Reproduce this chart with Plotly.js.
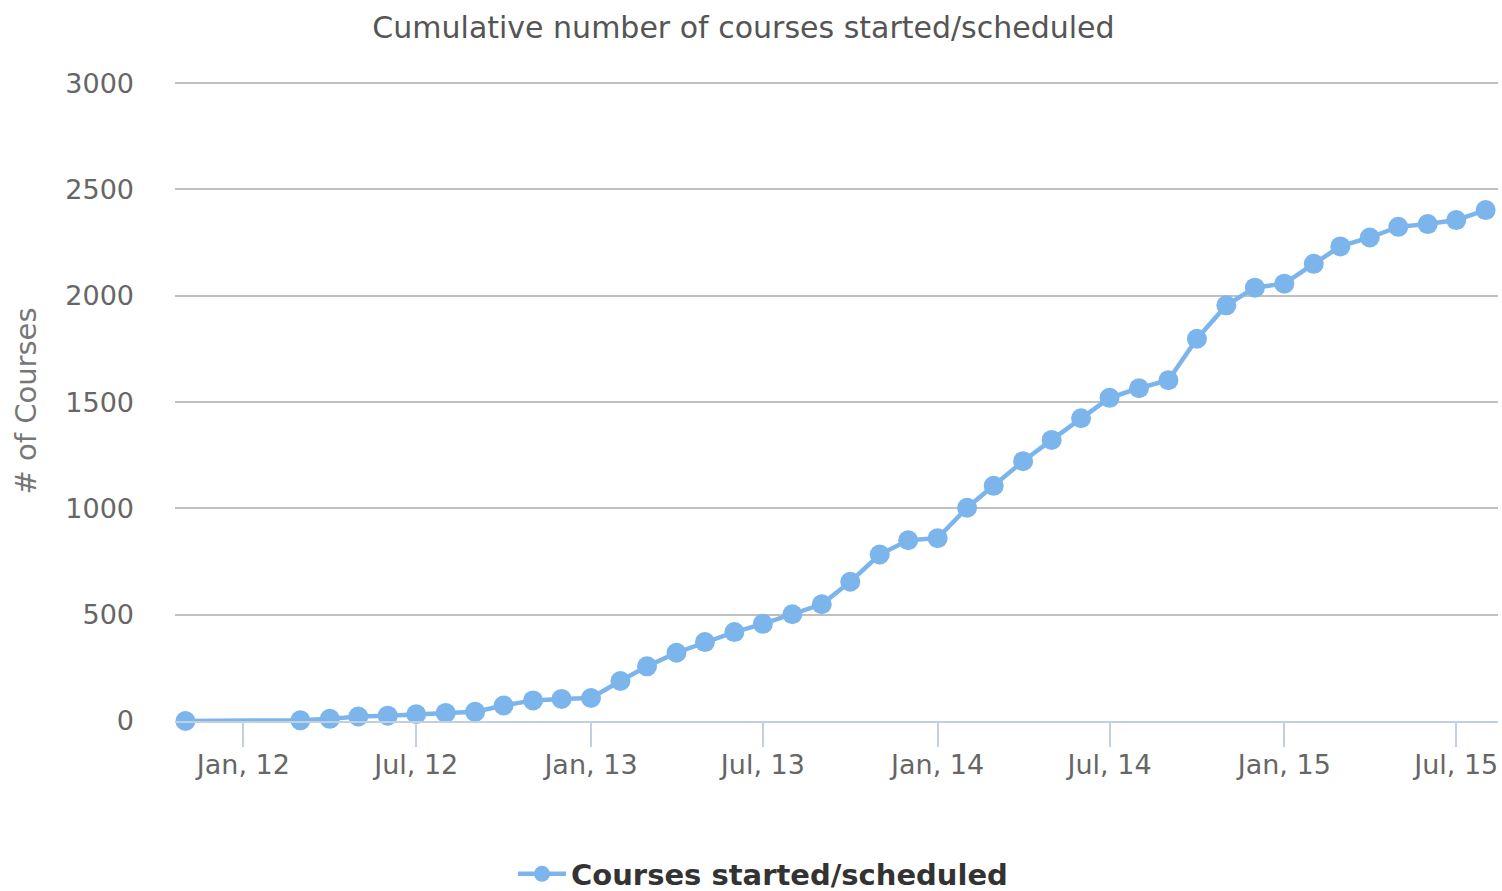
<!DOCTYPE html>
<html>
<head>
<meta charset="utf-8">
<script src="https://cdn.plot.ly/plotly-3.0.1.min.js"></script>
<style>
  html, body { margin: 0; padding: 0; background: #ffffff; }
  #chart { width: 1502px; height: 891px; }
</style>
</head>
<body>
<div id="chart"></div>
<script>
// Month start dates of each point
const months = [
  '2011-11-01',
  '2012-03-01', '2012-04-01', '2012-05-01', '2012-06-01', '2012-07-01',
  '2012-08-01', '2012-09-01', '2012-10-01', '2012-11-01', '2012-12-01',
  '2013-01-01', '2013-02-01', '2013-03-01', '2013-04-01', '2013-05-01', '2013-06-01',
  '2013-07-01', '2013-08-01', '2013-09-01', '2013-10-01', '2013-11-01', '2013-12-01',
  '2014-01-01', '2014-02-01', '2014-03-01', '2014-04-01', '2014-05-01', '2014-06-01',
  '2014-07-01', '2014-08-01', '2014-09-01', '2014-10-01', '2014-11-01', '2014-12-01',
  '2015-01-01', '2015-02-01', '2015-03-01', '2015-04-01', '2015-05-01', '2015-06-01',
  '2015-07-01', '2015-08-01'
];

// Cumulative number of courses started/scheduled
const coursesCumulative = [
  0,
  3, 10, 21, 25, 32,
  38, 43, 73, 97, 104,
  108, 188, 257, 321, 371, 418,
  457, 502, 549, 655, 783, 850,
  860, 1003, 1106, 1222, 1322, 1424,
  1520, 1565, 1603, 1798, 1955, 2038,
  2057, 2150, 2232, 2274, 2324, 2337,
  2356, 2403
];

const seriesName = 'Courses started/scheduled';
const chartTitle = 'Cumulative number of courses started/scheduled';
const yAxisTitle = '# of Courses';
const yTicks = [0, 500, 1000, 1500, 2000, 2500, 3000];

const FONT = '"DejaVu Sans", "Lucida Grande", Verdana, sans-serif';

const trace = {
  type: 'scatter',
  mode: 'lines+markers',
  name: seriesName,
  x: months,
  y: coursesCumulative,
  line: { color: '#7cb5ec', width: 4.5 },
  marker: { color: '#7cb5ec', size: 20 },
  cliponaxis: false,
  showlegend: true
};

const layout = {
  width: 1502,
  height: 891,
  paper_bgcolor: '#ffffff',
  plot_bgcolor: '#ffffff',
  font: { family: FONT, color: '#666666', size: 27 },
  margin: { l: 175, r: 4, t: 81, b: 170, pad: 0 },
  title: {
    text: chartTitle,
    font: { family: FONT, size: 30, color: '#555555' },
    x: 0.495, xref: 'container', xanchor: 'center',
    y: 1 - 27 / 891, yref: 'container', yanchor: 'middle'
  },
  xaxis: {
    type: 'date',
    range: ['2011-10-21', '2015-08-14'],
    tick0: '2012-01-01',
    dtick: 'M6',
    tickformat: '%b, %y',
    ticks: 'outside',
    ticklen: 24,
    tickwidth: 2,
    tickcolor: '#c0d0e0',
    ticklabelstandoff: -5,
    showline: true,
    linecolor: '#c0d0e0',
    linewidth: 2,
    showgrid: false,
    zeroline: false,
    tickfont: { family: FONT, size: 27, color: '#666666' },
    fixedrange: true
  },
  yaxis: {
    range: [0, 3010],
    tickvals: yTicks,
    ticktext: yTicks.map(String),
    showgrid: true,
    gridcolor: '#c0c0c0',
    gridwidth: 2,
    zeroline: false,
    showline: false,
    ticks: '',
    ticklabelstandoff: 40,
    tickfont: { family: FONT, size: 27, color: '#666666' },
    title: {
      text: yAxisTitle,
      font: { family: FONT, size: 29, color: '#777777' },
      standoff: 20
    },
    fixedrange: true
  },
  showlegend: true,
  legend: {
    orientation: 'h',
    xref: 'container', yref: 'container',
    x: 0.508, xanchor: 'center',
    y: 1 - 874 / 891, yanchor: 'middle',
    font: { family: FONT, size: 29, color: '#333333', weight: 'bold' },
    bgcolor: 'rgba(0,0,0,0)',
    itemwidth: 48
  },
  hovermode: false
};

Plotly.newPlot('chart', [trace], layout, { staticPlot: true, displayModeBar: false });
</script>
</body>
</html>
